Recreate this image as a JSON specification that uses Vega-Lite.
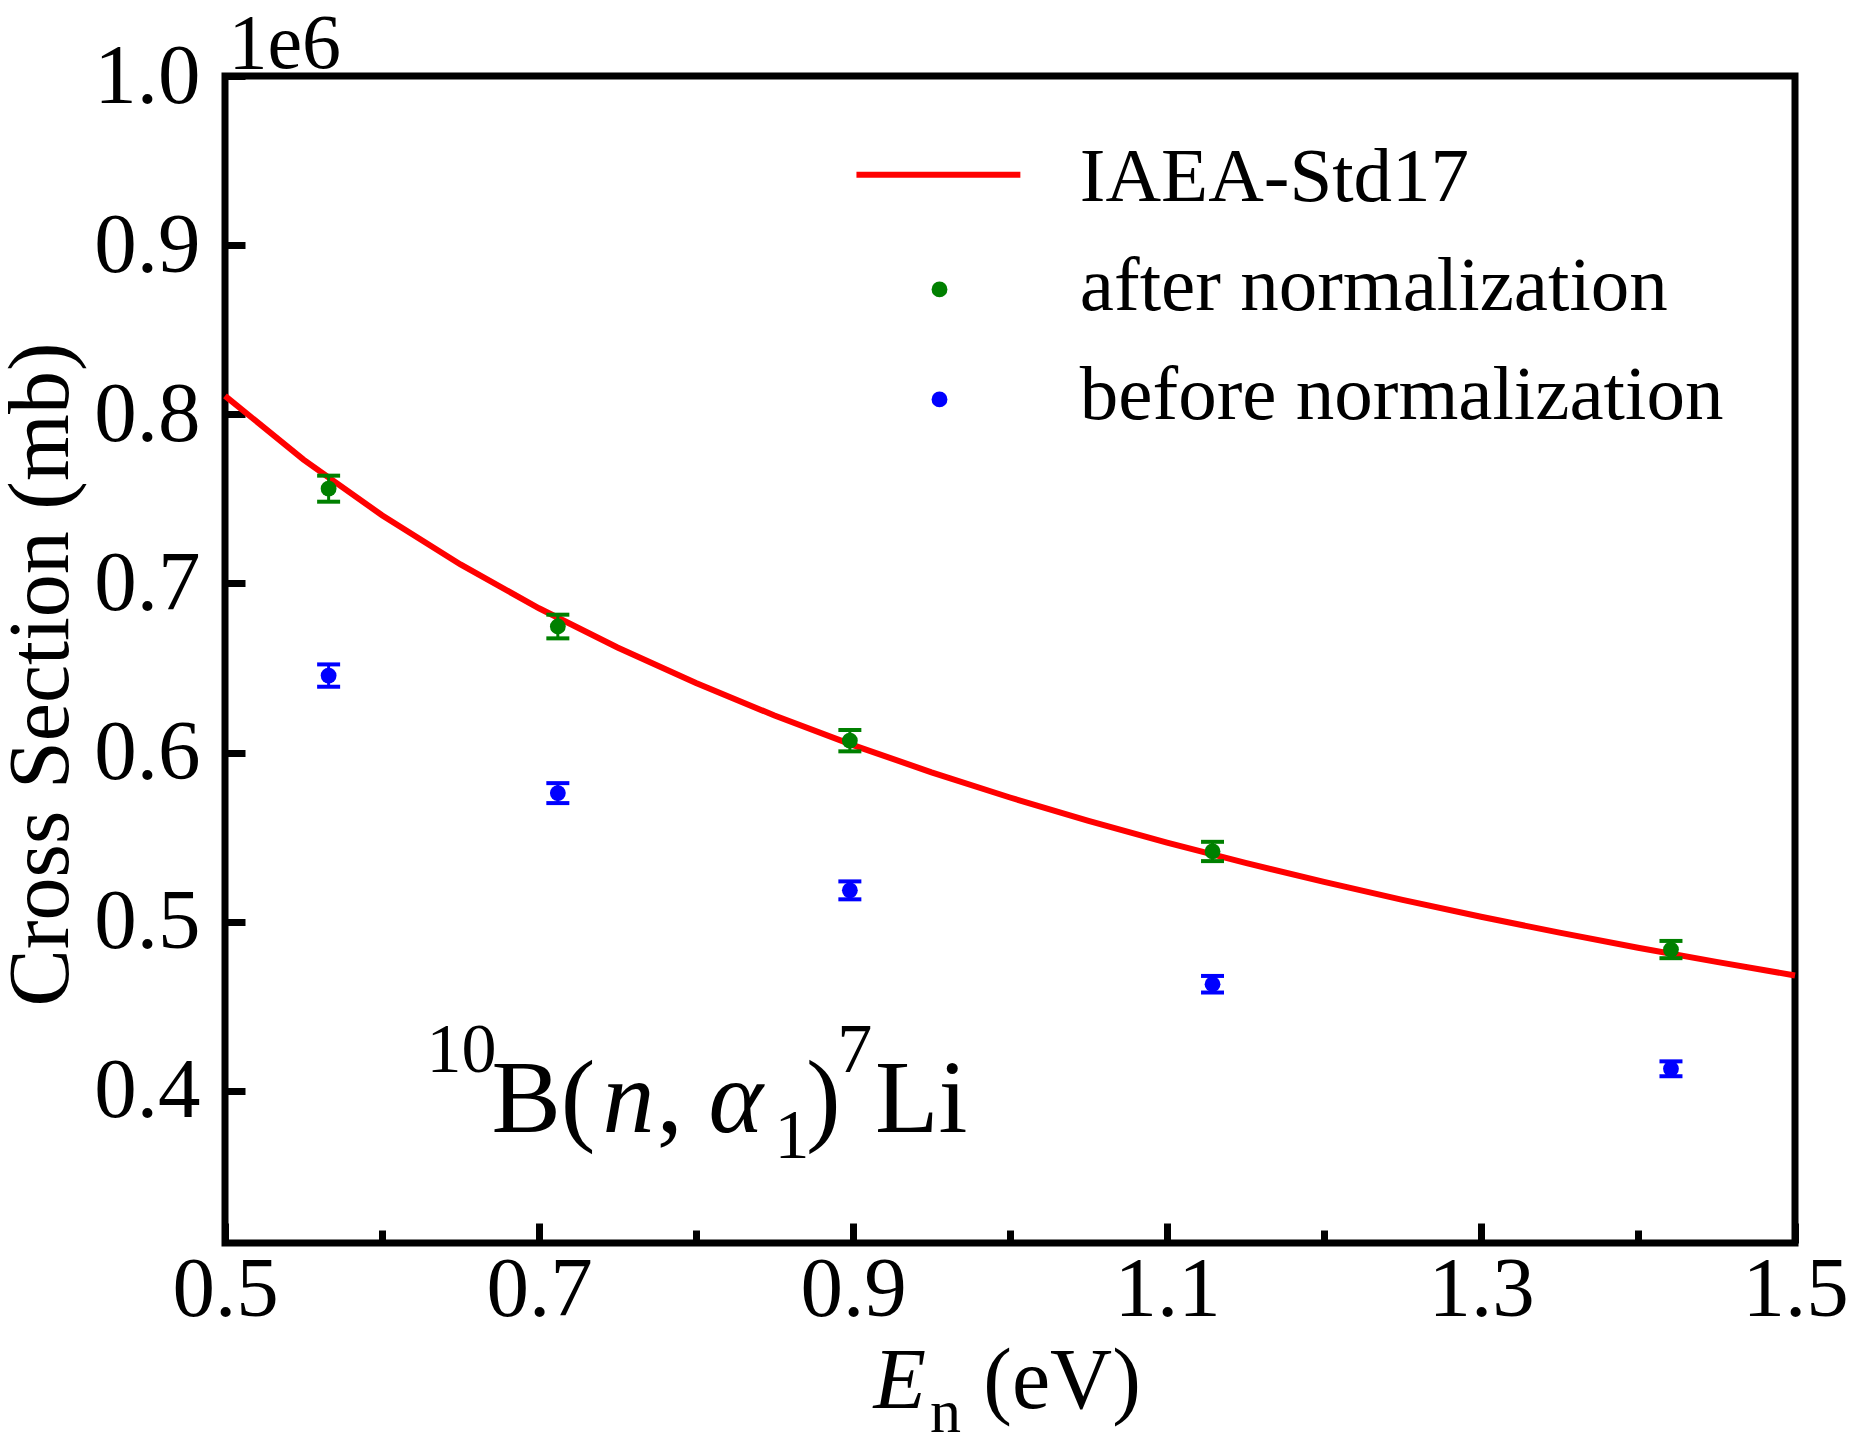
{
  "$schema": "https://vega.github.io/schema/vega-lite/v6.json",
  "description": "10B(n,alpha1)7Li cross section before and after normalization, compared with IAEA-Std17.",
  "width": 1570,
  "height": 1167,
  "autosize": {"type": "none"},
  "padding": {"left": 225, "top": 76, "right": 65, "bottom": 203},
  "background": "white",
  "config": {
    "view": {"stroke": "black", "strokeWidth": 7},
    "font": "Liberation Serif",
    "text": {"font": "Liberation Serif", "color": "black", "align": "left", "baseline": "alphabetic"}
  },
  "datasets": {
    "curve": [
      {"E": 0.50, "sigma": 810900},
      {"E": 0.55, "sigma": 773200},
      {"E": 0.60, "sigma": 740300},
      {"E": 0.65, "sigma": 711200},
      {"E": 0.70, "sigma": 685300},
      {"E": 0.75, "sigma": 662100},
      {"E": 0.80, "sigma": 641100},
      {"E": 0.85, "sigma": 621900},
      {"E": 0.90, "sigma": 604400},
      {"E": 0.95, "sigma": 588300},
      {"E": 1.00, "sigma": 573400},
      {"E": 1.05, "sigma": 559600},
      {"E": 1.10, "sigma": 546700},
      {"E": 1.15, "sigma": 534700},
      {"E": 1.20, "sigma": 523500},
      {"E": 1.25, "sigma": 512900},
      {"E": 1.30, "sigma": 502900},
      {"E": 1.35, "sigma": 493500},
      {"E": 1.40, "sigma": 484600},
      {"E": 1.45, "sigma": 476200},
      {"E": 1.50, "sigma": 468200}
    ],
    "meas": [
      {"E": 0.566, "series": "after normalization", "sigma": 756000, "lo": 748300, "hi": 763700},
      {"E": 0.712, "series": "after normalization", "sigma": 674500, "lo": 667500, "hi": 681500},
      {"E": 0.898, "series": "after normalization", "sigma": 607000, "lo": 600700, "hi": 613300},
      {"E": 1.129, "series": "after normalization", "sigma": 541500, "lo": 535800, "hi": 547200},
      {"E": 1.421, "series": "after normalization", "sigma": 483500, "lo": 478400, "hi": 488600},
      {"E": 0.566, "series": "before normalization", "sigma": 645500, "lo": 638900, "hi": 652100},
      {"E": 0.712, "series": "before normalization", "sigma": 576000, "lo": 570100, "hi": 581900},
      {"E": 0.898, "series": "before normalization", "sigma": 518500, "lo": 513200, "hi": 523800},
      {"E": 1.129, "series": "before normalization", "sigma": 463000, "lo": 458100, "hi": 467900},
      {"E": 1.421, "series": "before normalization", "sigma": 413000, "lo": 408600, "hi": 417400}
    ]
  },
  "layer": [
    {
      "data": {"name": "curve"},
      "mark": {"type": "line", "color": "#ff0000", "strokeWidth": 6},
      "encoding": {
        "x": {
          "field": "E", "type": "quantitative",
          "scale": {"domain": [0.5, 1.5], "nice": false, "zero": false},
          "axis": {
            "title": null, "domain": false, "grid": false,
            "values": [0.5, 0.6, 0.7, 0.8, 0.9, 1.0, 1.1, 1.2, 1.3, 1.4, 1.5],
            "labelExpr": "round(datum.value * 10) % 2 == 1 ? format(datum.value, '.1f') : ''",
            "labelFont": "Liberation Serif", "labelFontSize": 85, "labelColor": "black",
            "labelFlush": false, "labelOverlap": false, "labelPadding": 25,
            "tickColor": "black", "tickWidth": 7,
            "tickSize": {"condition": {"test": "round(datum.value * 10) % 2 == 1", "value": -20}, "value": -13}
          }
        },
        "y": {
          "field": "sigma", "type": "quantitative",
          "scale": {"domain": [310000, 1000000], "nice": false, "zero": false},
          "axis": {
            "title": "Cross Section (mb)", "domain": false, "grid": false,
            "values": [400000, 500000, 600000, 700000, 800000, 900000, 1000000],
            "labelExpr": "format(datum.value / 1000000, '.1f')",
            "labelFont": "Liberation Serif", "labelFontSize": 85, "labelColor": "black",
            "labelFlush": false, "labelOverlap": false, "labelPadding": 45,
            "tickColor": "black", "tickWidth": 7, "tickSize": -20,
            "titleFont": "Liberation Serif", "titleFontSize": 86, "titleFontWeight": "normal", "titleColor": "black",
            "titleAngle": -90, "titleAlign": "center", "titleBaseline": "alphabetic",
            "titleX": -158, "titleY": 598
          }
        }
      }
    },
    {
      "data": {"name": "meas"},
      "mark": {"type": "rule", "strokeWidth": 3},
      "encoding": {
        "x": {"field": "E", "type": "quantitative"},
        "y": {"field": "lo", "type": "quantitative"},
        "y2": {"field": "hi"},
        "color": {"field": "series", "type": "nominal", "scale": {"domain": ["after normalization", "before normalization"], "range": ["#008000", "#0000ff"]}, "legend": null}
      }
    },
    {
      "data": {"name": "meas"},
      "mark": {"type": "tick", "orient": "horizontal", "size": 23, "thickness": 4, "opacity": 1},
      "encoding": {
        "x": {"field": "E", "type": "quantitative"},
        "y": {"field": "lo", "type": "quantitative"},
        "color": {"field": "series", "type": "nominal", "legend": null}
      }
    },
    {
      "data": {"name": "meas"},
      "mark": {"type": "tick", "orient": "horizontal", "size": 23, "thickness": 4, "opacity": 1},
      "encoding": {
        "x": {"field": "E", "type": "quantitative"},
        "y": {"field": "hi", "type": "quantitative"},
        "color": {"field": "series", "type": "nominal", "legend": null}
      }
    },
    {
      "data": {"name": "meas"},
      "mark": {"type": "point", "filled": true, "size": 250, "opacity": 1},
      "encoding": {
        "x": {"field": "E", "type": "quantitative"},
        "y": {"field": "sigma", "type": "quantitative"},
        "color": {"field": "series", "type": "nominal", "legend": null}
      }
    },
    {
      "data": {"values": [{}]},
      "mark": {"type": "rule", "color": "#ff0000", "strokeWidth": 6},
      "encoding": {
        "x": {"datum": 0.9022, "type": "quantitative"},
        "x2": {"datum": 1.0066},
        "y": {"datum": 941600, "type": "quantitative"}
      }
    },
    {
      "data": {"values": [{}]},
      "mark": {"type": "point", "filled": true, "size": 250, "opacity": 1, "color": "#008000"},
      "encoding": {
        "x": {"datum": 0.9551, "type": "quantitative"},
        "y": {"datum": 873800, "type": "quantitative"}
      }
    },
    {
      "data": {"values": [{}]},
      "mark": {"type": "point", "filled": true, "size": 250, "opacity": 1, "color": "#0000ff"},
      "encoding": {
        "x": {"datum": 0.9551, "type": "quantitative"},
        "y": {"datum": 808800, "type": "quantitative"}
      }
    },
    {
      "data": {"values": [{}]},
      "mark": {"type": "text", "text": "IAEA-Std17", "fontSize": 77},
      "encoding": {
        "x": {"datum": 1.0445, "type": "quantitative"},
        "y": {"datum": 925800, "type": "quantitative"}
      }
    },
    {
      "data": {"values": [{}]},
      "mark": {"type": "text", "text": "after normalization", "fontSize": 77},
      "encoding": {
        "x": {"datum": 1.0445, "type": "quantitative"},
        "y": {"datum": 861400, "type": "quantitative"}
      }
    },
    {
      "data": {"values": [{}]},
      "mark": {"type": "text", "text": "before normalization", "fontSize": 77},
      "encoding": {
        "x": {"datum": 1.0445, "type": "quantitative"},
        "y": {"datum": 797000, "type": "quantitative"}
      }
    },
    {
      "data": {"values": [{}]},
      "mark": {"type": "text", "text": "1e6", "fontSize": 78},
      "encoding": {
        "x": {"datum": 0.5022, "type": "quantitative"},
        "y": {"datum": 1005000, "type": "quantitative"}
      }
    },
    {
      "data": {"values": [{}]},
      "mark": {"type": "text", "text": "10", "fontSize": 70},
      "encoding": {
        "x": {"datum": 0.6283, "type": "quantitative"},
        "y": {"datum": 411200, "type": "quantitative"}
      }
    },
    {
      "data": {"values": [{}]},
      "mark": {"type": "text", "text": "B(", "fontSize": 104},
      "encoding": {
        "x": {"datum": 0.6697, "type": "quantitative"},
        "y": {"datum": 375800, "type": "quantitative"}
      }
    },
    {
      "data": {"values": [{}]},
      "mark": {"type": "text", "text": "n", "fontSize": 104, "fontStyle": "italic"},
      "encoding": {
        "x": {"datum": 0.7405, "type": "quantitative"},
        "y": {"datum": 375800, "type": "quantitative"}
      }
    },
    {
      "data": {"values": [{}]},
      "mark": {"type": "text", "text": ",", "fontSize": 104},
      "encoding": {
        "x": {"datum": 0.7750, "type": "quantitative"},
        "y": {"datum": 375800, "type": "quantitative"}
      }
    },
    {
      "data": {"values": [{}]},
      "mark": {"type": "text", "text": "α", "fontSize": 104, "fontStyle": "italic"},
      "encoding": {
        "x": {"datum": 0.8080, "type": "quantitative"},
        "y": {"datum": 375800, "type": "quantitative"}
      }
    },
    {
      "data": {"values": [{}]},
      "mark": {"type": "text", "text": "1", "fontSize": 70},
      "encoding": {
        "x": {"datum": 0.8500, "type": "quantitative"},
        "y": {"datum": 360500, "type": "quantitative"}
      }
    },
    {
      "data": {"values": [{}]},
      "mark": {"type": "text", "text": ")", "fontSize": 104},
      "encoding": {
        "x": {"datum": 0.8700, "type": "quantitative"},
        "y": {"datum": 375800, "type": "quantitative"}
      }
    },
    {
      "data": {"values": [{}]},
      "mark": {"type": "text", "text": "7", "fontSize": 70},
      "encoding": {
        "x": {"datum": 0.8900, "type": "quantitative"},
        "y": {"datum": 411200, "type": "quantitative"}
      }
    },
    {
      "data": {"values": [{}]},
      "mark": {"type": "text", "text": "Li", "fontSize": 104},
      "encoding": {
        "x": {"datum": 0.9140, "type": "quantitative"},
        "y": {"datum": 375800, "type": "quantitative"}
      }
    },
    {
      "data": {"values": [{}]},
      "mark": {"type": "text", "text": "E", "fontSize": 86, "fontStyle": "italic"},
      "encoding": {
        "x": {"datum": 0.9130, "type": "quantitative"},
        "y": {"datum": 212500, "type": "quantitative"}
      }
    },
    {
      "data": {"values": [{}]},
      "mark": {"type": "text", "text": "n", "fontSize": 62},
      "encoding": {
        "x": {"datum": 0.9490, "type": "quantitative"},
        "y": {"datum": 198500, "type": "quantitative"}
      }
    },
    {
      "data": {"values": [{}]},
      "mark": {"type": "text", "text": "(eV)", "fontSize": 86},
      "encoding": {
        "x": {"datum": 0.9830, "type": "quantitative"},
        "y": {"datum": 212500, "type": "quantitative"}
      }
    }
  ]
}
